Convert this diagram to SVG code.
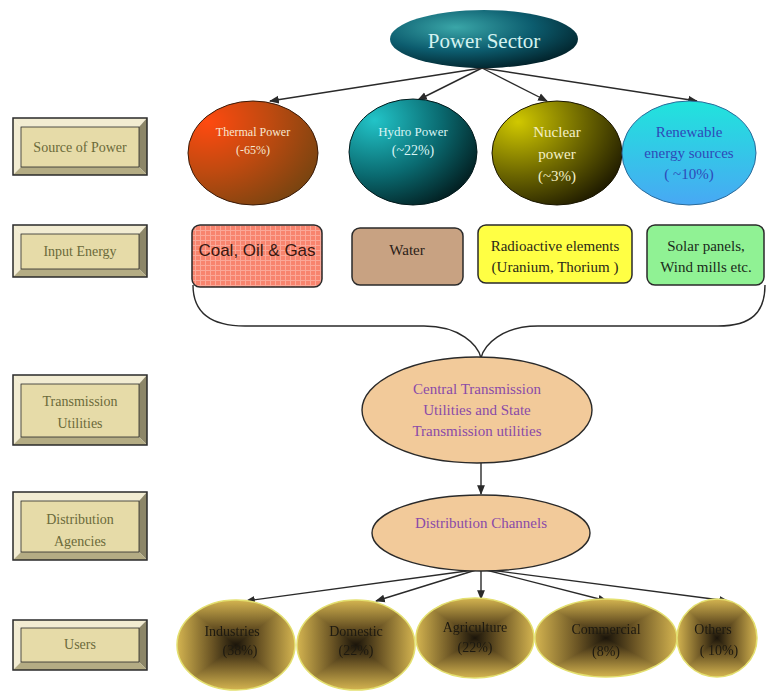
<svg xmlns="http://www.w3.org/2000/svg" width="766" height="691" viewBox="0 0 766 691">
<style>
  .lbl{font-family:"Liberation Serif","Times New Roman",serif;font-size:14px;fill:#6b6a3a;text-anchor:middle}
  .ser{font-family:"Liberation Serif","Times New Roman",serif;text-anchor:middle}
  .conn{fill:none;stroke:#2a2a2a;stroke-width:1.4}
  .box{stroke:#2a2a2a;stroke-width:1.5}
  .ub{fill:url(#gUserH)}
  .uo{fill:url(#gUserV);mix-blend-mode:lighten}
  .ur{fill:none;stroke:#e4e070;stroke-width:1.5}
  .utxt{font-family:"Liberation Serif","Times New Roman",serif;font-size:14px;fill:#1e1a10;text-anchor:middle}
  .purp{font-family:"Liberation Serif","Times New Roman",serif;font-size:15px;fill:#8a4aa8;text-anchor:middle}
</style>
<defs>
  <marker id="arr" viewBox="0 0 10 10" refX="9" refY="5" markerWidth="7" markerHeight="7" orient="auto">
    <path d="M0,1 L10,5 L0,9 z" fill="#2a2a2a"/>
  </marker>
  <radialGradient id="gPower" cx="0.35" cy="0.3" r="0.75">
    <stop offset="0" stop-color="#3aa6a8"/>
    <stop offset="0.55" stop-color="#0c5c6e"/>
    <stop offset="1" stop-color="#02222a"/>
  </radialGradient>
  <radialGradient id="gThermal" cx="0.15" cy="0.2" r="0.95">
    <stop offset="0" stop-color="#ff4a10"/>
    <stop offset="0.5" stop-color="#c04a10"/>
    <stop offset="1" stop-color="#7a4410"/>
  </radialGradient>
  <radialGradient id="gHydro" cx="0.2" cy="0.2" r="0.95">
    <stop offset="0" stop-color="#22c4c8"/>
    <stop offset="0.55" stop-color="#0a6a70"/>
    <stop offset="1" stop-color="#021a1c"/>
  </radialGradient>
  <radialGradient id="gNuclear" cx="0.2" cy="0.2" r="0.95">
    <stop offset="0" stop-color="#d0c800"/>
    <stop offset="0.55" stop-color="#6a6400"/>
    <stop offset="1" stop-color="#1a1600"/>
  </radialGradient>
  <linearGradient id="gRenew" x1="0" y1="0" x2="0" y2="1">
    <stop offset="0" stop-color="#20e4dc"/>
    <stop offset="1" stop-color="#48a8f4"/>
  </linearGradient>
  <linearGradient id="gUserH" x1="0" y1="0" x2="1" y2="0">
    <stop offset="0" stop-color="#d4b450"/>
    <stop offset="0.3" stop-color="#6a5424"/>
    <stop offset="0.5" stop-color="#1a140a"/>
    <stop offset="0.7" stop-color="#6a5424"/>
    <stop offset="1" stop-color="#d4b450"/>
  </linearGradient>
  <linearGradient id="gUserV" x1="0" y1="0" x2="0" y2="1">
    <stop offset="0" stop-color="#d4b450"/>
    <stop offset="0.3" stop-color="#6a5424"/>
    <stop offset="0.5" stop-color="#1a140a"/>
    <stop offset="0.7" stop-color="#6a5424"/>
    <stop offset="1" stop-color="#d4b450"/>
  </linearGradient>
  <pattern id="grid" width="5" height="5" patternUnits="userSpaceOnUse">
    <rect width="5" height="5" fill="#f8846e"/>
    <path d="M0,0.5 H5 M0.5,0 V5" stroke="#fba898" stroke-width="1"/>
  </pattern>
</defs>
<rect width="766" height="691" fill="#ffffff"/>

<!-- Left category labels -->
<g id="lbl-source">
  <polygon points="13,118 147,118 139,127 21,127" fill="#f2ecd2"/>
  <polygon points="13,118 21,127 21,167 13,175" fill="#f2ecd2"/>
  <polygon points="147,118 147,175 139,167 139,127" fill="#8c8668"/>
  <polygon points="13,175 147,175 139,167 21,167" fill="#b4ac84"/>
  <rect x="21" y="127" width="118" height="40" fill="#e6dba8" stroke="#2a2a2a" stroke-width="0.8"/>
  <rect x="13" y="118" width="134" height="57" fill="none" stroke="#2a2a2a" stroke-width="1.5"/>
  <text class="lbl" x="80" y="152">Source of Power</text>
</g>
<g id="lbl-input">
  <polygon points="13,225 147,225 139,234 21,234" fill="#f2ecd2"/>
  <polygon points="13,225 21,234 21,269 13,277" fill="#f2ecd2"/>
  <polygon points="147,225 147,277 139,269 139,234" fill="#8c8668"/>
  <polygon points="13,277 147,277 139,269 21,269" fill="#b4ac84"/>
  <rect x="21" y="234" width="118" height="35" fill="#e6dba8" stroke="#2a2a2a" stroke-width="0.8"/>
  <rect x="13" y="225" width="134" height="52" fill="none" stroke="#2a2a2a" stroke-width="1.5"/>
  <text class="lbl" x="80" y="256">Input Energy</text>
</g>
<g id="lbl-trans">
  <polygon points="13,375 147,375 139,384 21,384" fill="#f2ecd2"/>
  <polygon points="13,375 21,384 21,437 13,445" fill="#f2ecd2"/>
  <polygon points="147,375 147,445 139,437 139,384" fill="#8c8668"/>
  <polygon points="13,445 147,445 139,437 21,437" fill="#b4ac84"/>
  <rect x="21" y="384" width="118" height="53" fill="#e6dba8" stroke="#2a2a2a" stroke-width="0.8"/>
  <rect x="13" y="375" width="134" height="70" fill="none" stroke="#2a2a2a" stroke-width="1.5"/>
  <text class="lbl" x="80" y="406">Transmission</text>
  <text class="lbl" x="80" y="428">Utilities</text>
</g>
<g id="lbl-dist">
  <polygon points="13,492 147,492 139,501 21,501" fill="#f2ecd2"/>
  <polygon points="13,492 21,501 21,552 13,560" fill="#f2ecd2"/>
  <polygon points="147,492 147,560 139,552 139,501" fill="#8c8668"/>
  <polygon points="13,560 147,560 139,552 21,552" fill="#b4ac84"/>
  <rect x="21" y="501" width="118" height="51" fill="#e6dba8" stroke="#2a2a2a" stroke-width="0.8"/>
  <rect x="13" y="492" width="134" height="68" fill="none" stroke="#2a2a2a" stroke-width="1.5"/>
  <text class="lbl" x="80" y="524">Distribution</text>
  <text class="lbl" x="80" y="546">Agencies</text>
</g>
<g id="lbl-users">
  <polygon points="13,620 147,620 139,628 21,628" fill="#f2ecd2"/>
  <polygon points="13,620 21,628 21,662 13,670" fill="#f2ecd2"/>
  <polygon points="147,620 147,670 139,662 139,628" fill="#8c8668"/>
  <polygon points="13,670 147,670 139,662 21,662" fill="#b4ac84"/>
  <rect x="21" y="628" width="118" height="34" fill="#e6dba8" stroke="#2a2a2a" stroke-width="0.8"/>
  <rect x="13" y="620" width="134" height="50" fill="none" stroke="#2a2a2a" stroke-width="1.5"/>
  <text class="lbl" x="80" y="649">Users</text>
</g>

<!-- Connectors -->
<g id="connectors">
  <line class="conn" x1="482" y1="68" x2="270" y2="101" marker-end="url(#arr)"/>
  <line class="conn" x1="482" y1="68" x2="418" y2="100" marker-end="url(#arr)"/>
  <line class="conn" x1="482" y1="68" x2="547" y2="101" marker-end="url(#arr)"/>
  <line class="conn" x1="482" y1="68" x2="697" y2="101" marker-end="url(#arr)"/>
  <path class="conn" d="M193,285 C193,312 210,326 245,326 L424,326 C460,326 478,345 481,358 C484,345 502,326 538,326 L718,326 C752,326 765,312 765,285"/>
  <line class="conn" x1="481" y1="463" x2="481" y2="494" marker-end="url(#arr)"/>
  <line class="conn" x1="474" y1="570" x2="246" y2="601" marker-end="url(#arr)"/>
  <line class="conn" x1="476" y1="570" x2="376" y2="601" marker-end="url(#arr)"/>
  <line class="conn" x1="481" y1="570" x2="481" y2="599" marker-end="url(#arr)"/>
  <line class="conn" x1="486" y1="570" x2="607" y2="601" marker-end="url(#arr)"/>
  <line class="conn" x1="490" y1="570" x2="728" y2="601" marker-end="url(#arr)"/>
</g>

<!-- Power sector -->
<g id="power-sector">
  <ellipse cx="484" cy="39" rx="94" ry="29" fill="url(#gPower)"/>
  <text class="ser" x="484" y="48" font-size="21" fill="#d4f2f0">Power Sector</text>
</g>

<!-- Sources -->
<g id="thermal">
  <ellipse cx="253" cy="153" rx="65" ry="52" fill="url(#gThermal)" stroke="#3a1a08" stroke-width="1"/>
  <text class="ser" x="253" y="136" font-size="12" fill="#f8e8d0">Thermal Power</text>
  <text class="ser" x="253" y="154" font-size="12" fill="#f8e8d0">(-65%)</text>
</g>
<g id="hydro">
  <ellipse cx="413" cy="152" rx="64" ry="53" fill="url(#gHydro)" stroke="#021a1c" stroke-width="1"/>
  <text class="ser" x="413" y="136" font-size="13" fill="#d8f4f4">Hydro Power</text>
  <text class="ser" x="413" y="155" font-size="14" fill="#d8f4f4">(~22%)</text>
</g>
<g id="nuclear">
  <ellipse cx="557" cy="153" rx="65" ry="52" fill="url(#gNuclear)" stroke="#1a1600" stroke-width="1"/>
  <text class="ser" x="557" y="137" font-size="15" fill="#f4f0c8">Nuclear</text>
  <text class="ser" x="557" y="159" font-size="15" fill="#f4f0c8">power</text>
  <text class="ser" x="557" y="181" font-size="15" fill="#f4f0c8">(~3%)</text>
</g>
<g id="renewable">
  <ellipse cx="689" cy="153" rx="67" ry="52" fill="url(#gRenew)" stroke="#2a6a9a" stroke-width="1"/>
  <text class="ser" x="689" y="137" font-size="15" fill="#2e4ab8">Renewable</text>
  <text class="ser" x="689" y="158" font-size="15" fill="#2e4ab8">energy sources</text>
  <text class="ser" x="689" y="179" font-size="15" fill="#2e4ab8">( ~10%)</text>
</g>

<!-- Input energy -->
<g id="coal">
  <rect class="box" x="192" y="225" width="130" height="62" rx="8" fill="url(#grid)"/>
  <text x="257" y="256" font-family="'Liberation Sans',Arial,sans-serif" font-size="17" fill="#3a1810" text-anchor="middle">Coal, Oil &amp; Gas</text>
</g>
<g id="water">
  <rect class="box" x="352" y="228" width="111" height="57" rx="8" fill="#c8a282"/>
  <text class="ser" x="407" y="255" font-size="15" fill="#2a2018">Water</text>
</g>
<g id="radioactive">
  <rect class="box" x="478" y="225" width="154" height="58" rx="8" fill="#ffff44"/>
  <text class="ser" x="555" y="251" font-size="15" fill="#2a2818">Radioactive elements</text>
  <text class="ser" x="555" y="272" font-size="15" fill="#2a2818">(Uranium, Thorium )</text>
</g>
<g id="solar">
  <rect class="box" x="647" y="225" width="117" height="60" rx="8" fill="#90f294"/>
  <text class="ser" x="706" y="251" font-size="15" fill="#1a2a1a">Solar panels,</text>
  <text class="ser" x="706" y="272" font-size="15" fill="#1a2a1a">Wind mills etc.</text>
</g>

<!-- Transmission -->
<g id="transmission">
  <ellipse cx="477" cy="410" rx="115" ry="53" fill="#f2ca9a" stroke="#2a2a2a" stroke-width="1.4"/>
  <text class="purp" x="477" y="394">Central Transmission</text>
  <text class="purp" x="477" y="415">Utilities and State</text>
  <text class="purp" x="477" y="436">Transmission utilities</text>
</g>
<g id="distribution">
  <ellipse cx="481" cy="533" rx="109" ry="38" fill="#f2ca9a" stroke="#2a2a2a" stroke-width="1.4"/>
  <text class="purp" x="481" y="528">Distribution Channels</text>
</g>

<!-- Users -->
<g id="industries" style="isolation:isolate">
  <ellipse class="ub" cx="236" cy="645" rx="59" ry="45"/>
  <ellipse class="uo" cx="236" cy="645" rx="59" ry="45"/>
  <ellipse class="ur" cx="236" cy="645" rx="59" ry="45"/>
  <text class="utxt" x="232" y="636">Industries</text>
  <text class="utxt" x="240" y="655">(38%)</text>
</g>
<g id="domestic" style="isolation:isolate">
  <ellipse class="ub" cx="356" cy="645" rx="59" ry="45"/>
  <ellipse class="uo" cx="356" cy="645" rx="59" ry="45"/>
  <ellipse class="ur" cx="356" cy="645" rx="59" ry="45"/>
  <text class="utxt" x="356" y="636">Domestic</text>
  <text class="utxt" x="356" y="655">(22%)</text>
</g>
<g id="agriculture" style="isolation:isolate">
  <ellipse class="ub" cx="475" cy="638" rx="59" ry="40"/>
  <ellipse class="uo" cx="475" cy="638" rx="59" ry="40"/>
  <ellipse class="ur" cx="475" cy="638" rx="59" ry="40"/>
  <text class="utxt" x="475" y="632">Agriculture</text>
  <text class="utxt" x="475" y="652">(22%)</text>
</g>
<g id="commercial" style="isolation:isolate">
  <ellipse class="ub" cx="606" cy="638" rx="71" ry="39"/>
  <ellipse class="uo" cx="606" cy="638" rx="71" ry="39"/>
  <ellipse class="ur" cx="606" cy="638" rx="71" ry="39"/>
  <text class="utxt" x="606" y="634">Commercial</text>
  <text class="utxt" x="606" y="656">(8%)</text>
</g>
<g id="others" style="isolation:isolate">
  <ellipse class="ub" cx="717" cy="638" rx="40" ry="39"/>
  <ellipse class="uo" cx="717" cy="638" rx="40" ry="39"/>
  <ellipse class="ur" cx="717" cy="638" rx="40" ry="39"/>
  <text class="utxt" x="713" y="634">Others</text>
  <text class="utxt" x="719" y="655">( 10%)</text>
</g>
</svg>
